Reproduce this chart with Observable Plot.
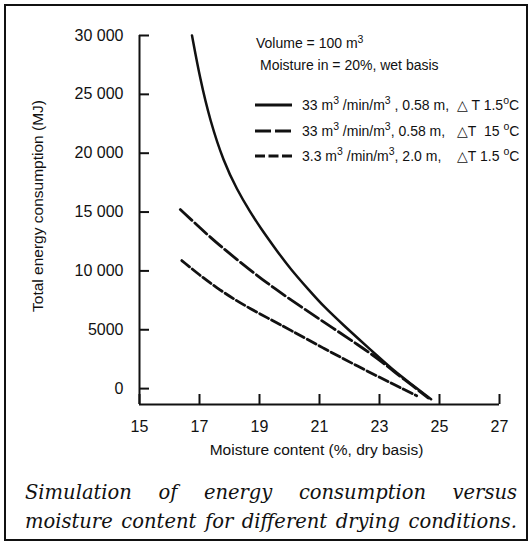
<!DOCTYPE html>
<html><head><meta charset="utf-8">
<script src="https://cdn.jsdelivr.net/npm/d3@7"></script>
<script src="https://cdn.jsdelivr.net/npm/@observablehq/plot@0.6"></script>
<style>
body{margin:0;background:#fff;}
#wrap{position:relative;width:531px;height:544px;overflow:hidden;font-family:"Liberation Sans",Arial,sans-serif;background:#fff;}
#frame{position:absolute;left:4px;top:4px;width:520px;height:533px;border:2px solid #111;}
#chart{position:absolute;left:0;top:0;}
#legend{position:absolute;left:0;top:0;}
#caption{position:absolute;left:25px;top:478px;width:492px;font-family:"DejaVu Serif",serif;font-style:italic;font-size:19.5px;line-height:29px;color:#111;white-space:nowrap;}
#caption div{text-align:justify;text-align-last:justify;}
</style></head>
<body><div id="wrap"><div id="frame"></div><div id="chart"></div><svg id="legend" width="531" height="470"></svg><div id="caption"><div>Simulation of energy consumption versus</div><div>moisture content for different drying conditions.</div></div></div>
<script>
// Series (moisture content %, dry basis -> total energy consumption MJ)
const seriesNames = ["33 m3/min/m3, 0.58 m, ΔT 1.5°C", "33 m3/min/m3, 0.58 m, ΔT 15°C", "3.3 m3/min/m3, 2.0 m, ΔT 1.5°C"];
const moistureA = [16.75, 17.02, 17.36, 17.80, 18.25, 18.69, 19.02, 19.58, 20.02, 20.69, 21.13, 21.86, 22.27, 22.90, 23.40, 24.00, 24.72];
const energyA   = [30000, 26300, 22700, 19300, 16900, 15000, 13700, 11700, 10200, 8250, 7000, 5250, 4300, 2850, 1700, 500, -900];
const moistureB = [16.36, 17.00, 17.58, 18.69, 19.50, 20.50, 21.50, 22.27, 23.00, 23.50, 24.10, 24.62];
const energyB   = [15210, 13700, 12350, 10050, 8500, 6750, 5050, 3750, 2450, 1400, 250, -800];
const moistureC = [16.41, 17.00, 17.58, 18.20, 18.69, 19.36, 20.01, 21.14, 22.27, 23.40, 24.24];
const energyC   = [10880, 9650, 8550, 7520, 6800, 5880, 5000, 3420, 1900, 450, -600];

const xTicks = [15, 17, 19, 21, 23, 25, 27];
const yTicks = [0, 5000, 10000, 15000, 20000, 25000, 30000];
const yTickLabels = ["0", "5000", "10 000", "15 000", "20 000", "25 000", "30 000"];

const xLabel = "Moisture content (%, dry basis)";
const yLabel = "Total energy consumption (MJ)";
const noteLines = ["Volume = 100 m", "Moisture in = 20%, wet basis"];

const dashes = [null, "16,4", "10,3.5"];

const toRows = (xs, ys, s) => xs.map((x, i) => ({x, y: ys[i], s}));
const rowsA = toRows(moistureA, energyA, seriesNames[0]);
const rowsB = toRows(moistureB, energyB, seriesNames[1]);
const rowsC = toRows(moistureC, energyC, seriesNames[2]);

const chart = Plot.plot({
  width: 531,
  height: 470,
  marginLeft: 139,
  marginRight: 32,
  marginTop: 35,
  marginBottom: 66,
  style: {fontFamily: '"Liberation Sans", Arial, sans-serif', fontSize: "16px", color: "#111", background: "transparent"},
  x: {domain: [15, 27]},
  y: {domain: [-1350, 30000]},
  marks: [
    Plot.ruleX([15], {strokeWidth: 2}),
    Plot.ruleY([-1350], {strokeWidth: 2}),
    Plot.axisX(xTicks, {tickSize: -10, tickPadding: 26, strokeWidth: 2, fontSize: 16, label: null}),
    Plot.axisY(yTicks, {tickSize: -10, tickPadding: 26, strokeWidth: 2, fontSize: 16, label: null,
      tickFormat: d => yTickLabels[yTicks.indexOf(d)]}),
    Plot.text([xLabel], {frameAnchor: "bottom", dx: -3, dy: 46, fontSize: 15.5, lineAnchor: "middle"}),
    Plot.text([yLabel], {frameAnchor: "left", dx: -101, dy: -14, rotate: -90, fontSize: 15.5, textAnchor: "middle", lineAnchor: "middle"}),
    Plot.line(rowsA, {x: "x", y: "y", curve: "basis", strokeWidth: 2.5, stroke: "#111"}),
    Plot.line(rowsB, {x: "x", y: "y", curve: "basis", strokeWidth: 2.8, stroke: "#111", strokeDasharray: dashes[1]}),
    Plot.line(rowsC, {x: "x", y: "y", curve: "basis", strokeWidth: 2.8, stroke: "#111", strokeDasharray: dashes[2]})
  ]
});
document.getElementById("chart").appendChild(chart);

// Legend / annotation overlay
const lg = d3.select("#legend").style("font-family", '"Liberation Sans", Arial, sans-serif').style("fill", "#111");
const t1 = lg.append("text").attr("x", 256).attr("y", 48).attr("font-size", 14);
t1.append("tspan").text(noteLines[0]);
t1.append("tspan").attr("dy", -5).attr("font-size", 10.5).text("3");
lg.append("text").attr("x", 260).attr("y", 70).attr("font-size", 14).text(noteLines[1]);

const rowParts = [
  [["33 m", 0], ["3", 1], [" /min/m", 0], ["3", 1], [" , 0.58 m,  △ T 1.5", 0], ["o", 1], ["C", 0]],
  [["33 m", 0], ["3", 1], [" /min/m", 0], ["3", 1], [", 0.58 m,   △T  15 ", 0], ["o", 1], ["C", 0]],
  [["3.3 m", 0], ["3", 1], [" /min/m", 0], ["3", 1], [", 2.0 m,    △T 1.5 ", 0], ["o", 1], ["C", 0]]
];
const rowY = [105, 131, 156];
seriesNames.forEach((name, i) => {
  lg.append("line").attr("x1", 255).attr("x2", 292).attr("y1", rowY[i]).attr("y2", rowY[i])
    .attr("stroke", "#111").attr("stroke-width", 2.8).attr("stroke-dasharray", dashes[i]);
  const t = lg.append("text").attr("x", 302).attr("y", rowY[i] + 5).attr("font-size", 14)
    .style("white-space", "pre").attr("xml:space", "preserve");
  let sup = false;
  rowParts[i].forEach(([s, isSup]) => {
    const ts = t.append("tspan").text(s);
    if (isSup && !sup) { ts.attr("dy", -6).attr("font-size", 10.5); sup = true; }
    else if (!isSup && sup) { ts.attr("dy", 6); sup = false; }
  });
});
</script>
</body></html>
